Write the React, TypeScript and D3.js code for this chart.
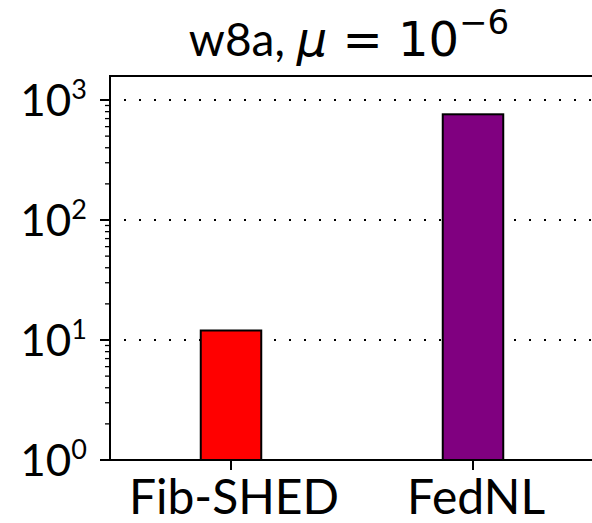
import * as d3 from 'd3';

const categories = ['Fib-SHED', 'FedNL'];
const values = [12, 760];
const barColors = ['#ff0000', '#800080'];
const majorExps = [0, 1, 2, 3];

export default function App() {
  const width = 592;
  const height = 523;
  const margin = { top: 76, right: -2, bottom: 63, left: 110 };

  const x = d3.scaleLinear()
    .domain([-0.5, categories.length - 0.5])
    .range([margin.left, width - margin.right]);

  const y = d3.scaleLog()
    .domain([1, Math.pow(10, 3.2)])
    .range([height - margin.bottom, margin.top]);

  const barW = x(0.25) - x(0);
  const minorTicks = y.ticks().filter(t => Math.abs(Math.log10(t) - Math.round(Math.log10(t))) > 1e-6);
  const x0 = margin.left;
  const x1 = width - margin.right;
  const yb = height - margin.bottom;
  const font = 'Lato, "DejaVu Sans", sans-serif';

  return (
    <svg width={width} height={height} style={{ position: 'absolute', left: 0, top: 0, background: '#fff' }}>
      {/* grid */}
      {majorExps.map(e => (
        <line key={'g' + e} x1={x0} x2={x1} y1={y(Math.pow(10, e))} y2={y(Math.pow(10, e))}
          stroke="#000" strokeWidth={2} strokeDasharray="2,13" strokeDashoffset={1} />
      ))}

      {/* bars */}
      {values.map((v, i) => (
        <rect key={categories[i]} x={x(i) - barW / 2} y={y(v)} width={barW} height={yb - y(v)}
          fill={barColors[i]} stroke="#000" strokeWidth={2} />
      ))}

      {/* spines */}
      <rect x={x0} y={margin.top} width={x1 - x0} height={yb - margin.top} fill="none" stroke="#000" strokeWidth={2} />

      {/* y ticks */}
      {minorTicks.map(t => (
        <line key={'m' + t} x1={x0 - 5} x2={x0} y1={y(t)} y2={y(t)} stroke="#000" strokeWidth={1.3} />
      ))}
      {majorExps.map(e => {
        const yy = y(Math.pow(10, e));
        return (
          <g key={'t' + e}>
            <line x1={x0 - 10} x2={x0} y1={yy} y2={yy} stroke="#000" strokeWidth={2} />
            <text x={87} y={yy + 16} textAnchor="end" fontFamily={font} fontSize={44} fill="#000">
              10<tspan dy={-17} fontSize={27}>{e}</tspan>
            </text>
          </g>
        );
      })}

      {/* x ticks */}
      {categories.map((c, i) => (
        <g key={'x' + c}>
          <line x1={x(i)} x2={x(i)} y1={yb} y2={yb + 10} stroke="#000" strokeWidth={2} />
          <text x={x(i) + 3} y={514} textAnchor="middle" fontFamily={font} fontSize={48} fill="#000">{c}</text>
        </g>
      ))}

      {/* title */}
      <text x={349} y={56} textAnchor="middle" fontFamily={font} fontSize={46} fill="#000">
        w8a,{' '}
        <tspan fontFamily='"DejaVu Sans"' fontStyle="italic" fontSize={48}>μ</tspan>
        <tspan fontFamily='"DejaVu Sans"' fontSize={48}>{' = 10'}</tspan>
        <tspan fontFamily='"DejaVu Sans"' fontSize={34} dy={-22}>−6</tspan>
      </text>
    </svg>
  );
}
